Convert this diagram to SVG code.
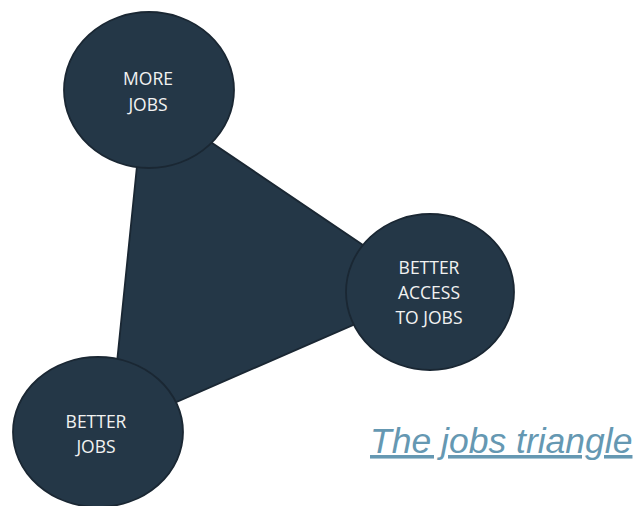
<svg xmlns="http://www.w3.org/2000/svg" width="639" height="506" viewBox="0 0 639 506">
  <style>
    .shape { fill: #243747; stroke: #1a2733; stroke-width: 1.8; }
    .lbl { font-family: "Open Sans", "Liberation Sans", sans-serif; font-size: 17.5px; fill: #f2f2f2; text-anchor: middle; }
    .cap { font-family: "Liberation Sans", Arial, sans-serif; font-size: 35.5px; font-style: italic; fill: #6598b2; text-decoration: underline; }
  </style>
  <rect width="639" height="506" fill="#ffffff"/>
  <g id="connectors">
    <polygon class="shape" points="144,97 431,291 110,431"/>
  </g>
  <g id="more-jobs">
    <ellipse class="shape" cx="149" cy="90" rx="85" ry="78"/>
    <text class="lbl" x="148" y="85">MORE</text>
    <text class="lbl" x="148" y="111">JOBS</text>
  </g>
  <g id="better-access">
    <ellipse class="shape" cx="430" cy="292" rx="84" ry="78"/>
    <text class="lbl" x="429" y="274">BETTER</text>
    <text class="lbl" x="429" y="299">ACCESS</text>
    <text class="lbl" x="429" y="324">TO JOBS</text>
  </g>
  <g id="better-jobs">
    <ellipse class="shape" cx="98" cy="432" rx="85" ry="75"/>
    <text class="lbl" x="96" y="428">BETTER</text>
    <text class="lbl" x="96" y="453">JOBS</text>
  </g>
  <g id="caption">
    <text class="cap" x="370" y="453">The jobs triangle</text>
  </g>
</svg>
